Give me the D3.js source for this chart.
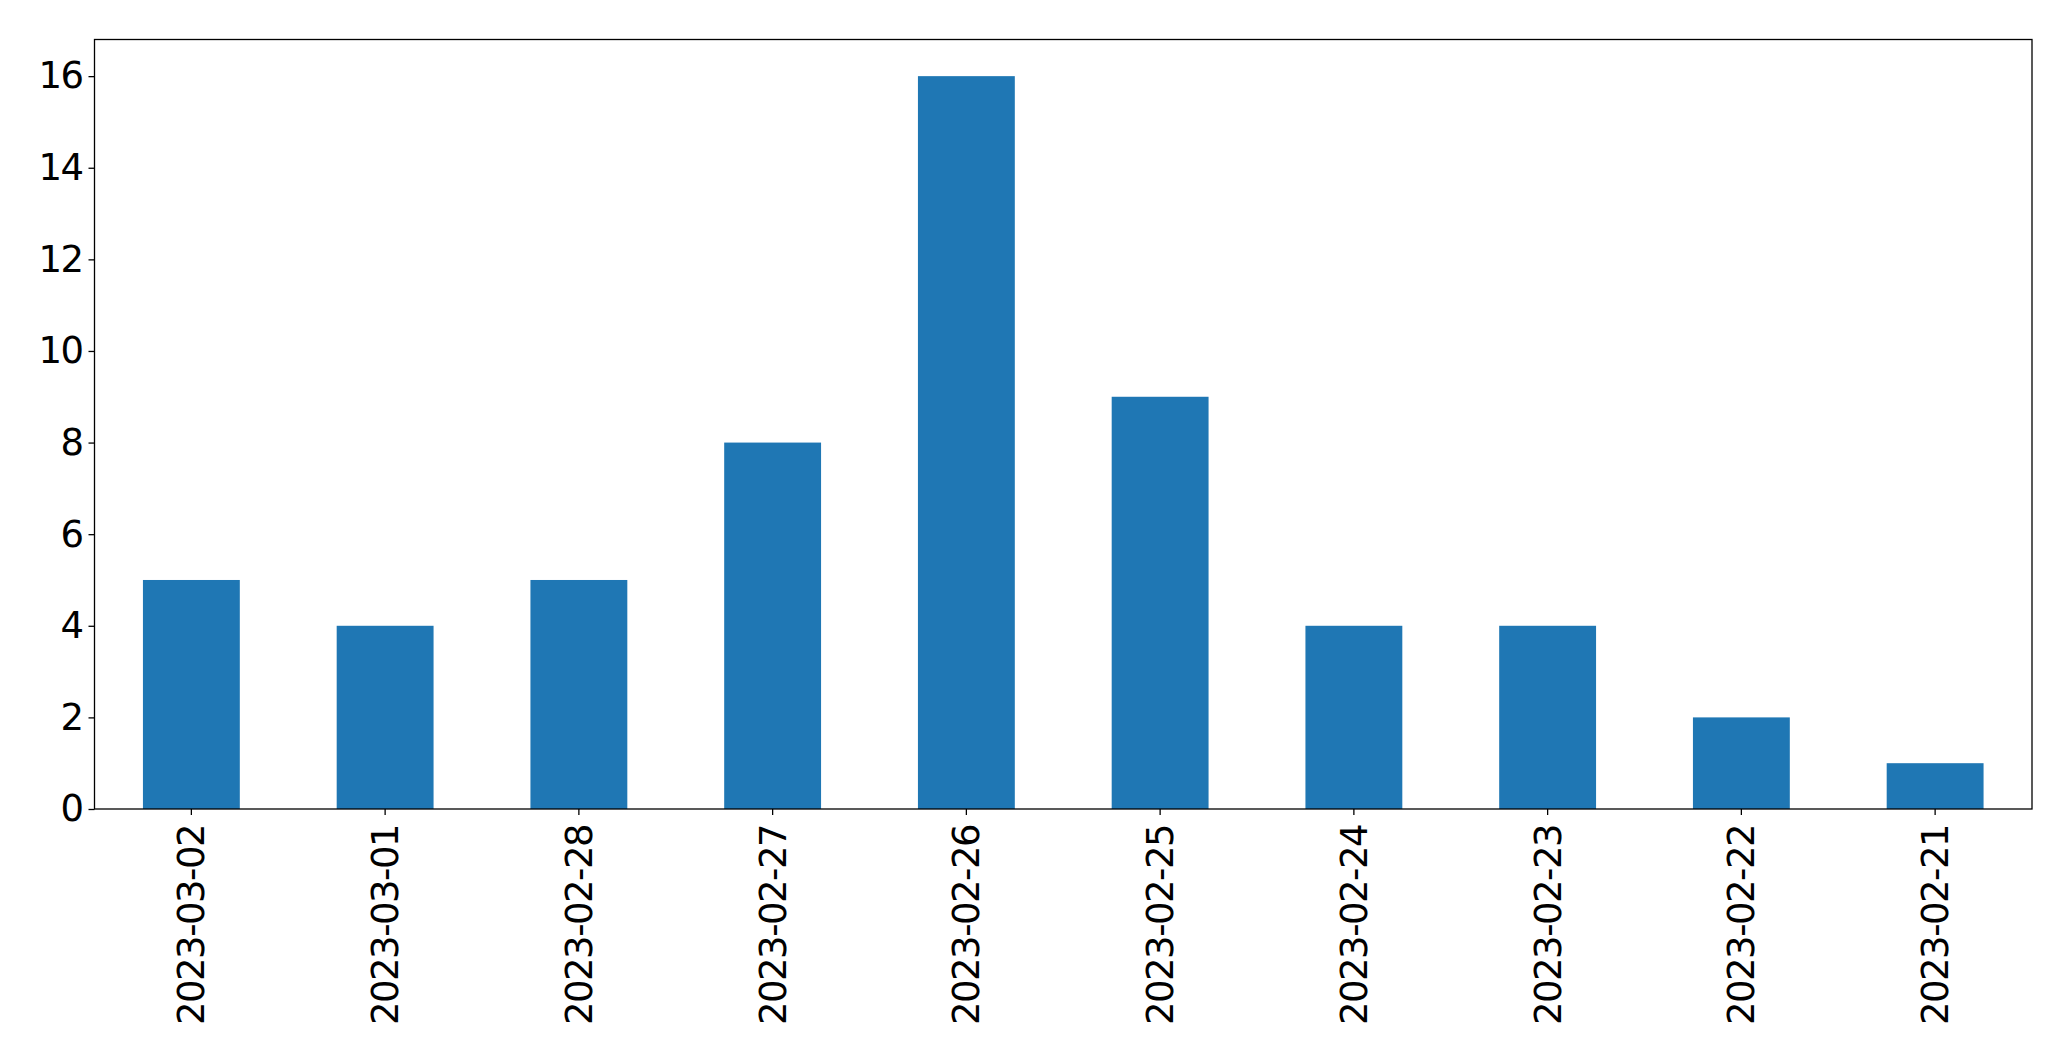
<!DOCTYPE html>
<html><head><meta charset="utf-8">
<script src="https://cdn.jsdelivr.net/npm/d3@7"></script>
<style>body{margin:0;background:#fff}svg{display:block}text{font-family:"DejaVu Sans",sans-serif}</style>
</head><body><svg id="c" width="2071" height="1061"></svg>
<script>
const categories = ["2023-03-02","2023-03-01","2023-02-28","2023-02-27","2023-02-26","2023-02-25","2023-02-24","2023-02-23","2023-02-22","2023-02-21"];
const values = [5,4,5,8,16,9,4,4,2,1];
const yTicks = [0,2,4,6,8,10,12,14,16];

const svg = d3.select("#c");
const L = 94.5, R = 2032, T = 39.5, B = 809;
const x = d3.scaleBand().domain(categories).range([L, R]).paddingInner(0.5).paddingOuter(0.25);
const y = d3.scaleLinear().domain([0, 16.8]).range([B, T]);

svg.append("g").selectAll("rect").data(values).join("rect")
  .attr("x", (d,i) => x(categories[i]))
  .attr("width", x.bandwidth())
  .attr("y", d => y(d))
  .attr("height", d => B - y(d))
  .attr("fill", "#1f77b4");

const ya = svg.append("g").attr("transform", `translate(${L},0)`)
  .call(d3.axisLeft(y).tickValues(yTicks).tickSize(6).tickPadding(6).tickFormat(d3.format("d")));
ya.select(".domain").remove();
ya.selectAll("text").attr("font-size", 37).attr("fill", "#000").attr("font-family", "DejaVu Sans")
  .attr("letter-spacing", "-1.5px");
ya.selectAll("line").attr("stroke", "#000").attr("stroke-width", 1.3);

const xa = svg.append("g").attr("transform", `translate(0,${B})`)
  .call(d3.axisBottom(x).tickSize(6).tickPadding(0));
xa.select(".domain").remove();
xa.selectAll("line").attr("stroke", "#000").attr("stroke-width", 1.3);
xa.selectAll("text").attr("font-size", 37).attr("fill", "#000").attr("font-family", "DejaVu Sans")
  .attr("letter-spacing", "-1.5px")
  .attr("transform", "translate(0,16) rotate(-90)")
  .attr("text-anchor", "end").attr("dy", "0.35em").attr("x", 0).attr("y", 0);

svg.append("rect").attr("x", L).attr("y", T).attr("width", R - L).attr("height", B - T)
  .attr("fill", "none").attr("stroke", "#000").attr("stroke-width", 1.3);
</script></body></html>
